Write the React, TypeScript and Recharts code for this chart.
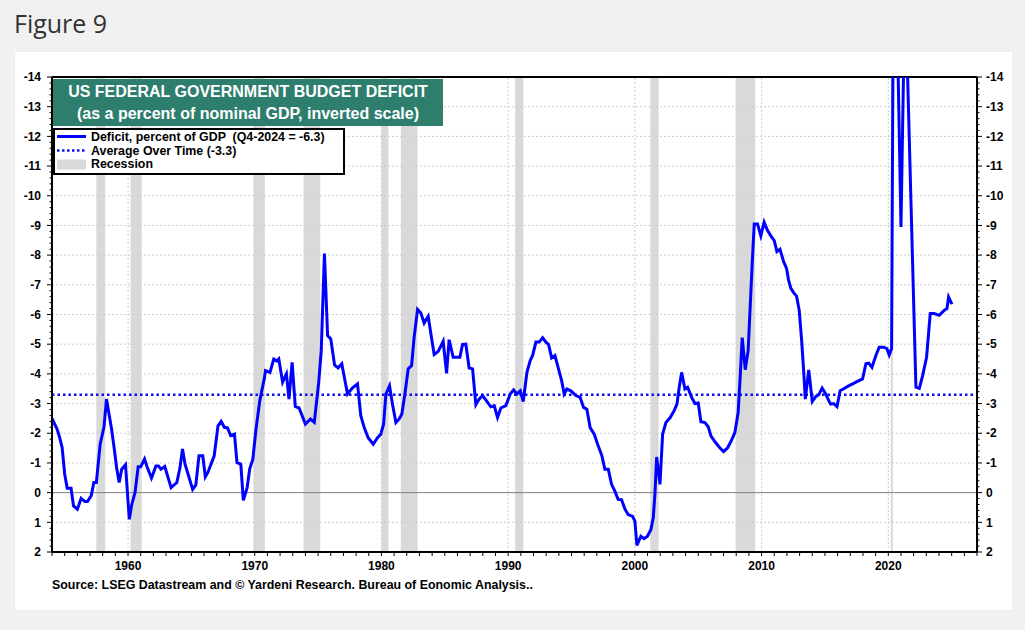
import React from 'react';
import { ComposedChart, Line, XAxis, YAxis, ReferenceArea, ReferenceLine } from 'recharts';

// ---- data ----
const years = [
  1954.0, 1954.4, 1954.6, 1954.8, 1955.0, 1955.2, 1955.5, 1955.7, 1956.0, 1956.3,
  1956.6, 1956.8, 1957.1, 1957.3, 1957.5, 1957.8, 1958.1, 1958.3, 1958.5, 1958.7,
  1958.9, 1959.1, 1959.3, 1959.5, 1959.8, 1960.1, 1960.3, 1960.55, 1960.8, 1961.0,
  1961.3, 1961.5, 1961.85, 1962.2, 1962.4, 1962.6, 1962.9, 1963.4, 1963.85, 1964.1,
  1964.3, 1964.5, 1964.7, 1965.1, 1965.35, 1965.6, 1965.9, 1966.1, 1966.3, 1966.8,
  1967.1, 1967.35, 1967.6, 1967.85, 1968.1, 1968.4, 1968.6, 1968.9, 1969.1, 1969.4,
  1969.6, 1969.85, 1970.1, 1970.4, 1970.75, 1970.85, 1971.2, 1971.5, 1971.75, 1971.9,
  1972.2, 1972.5, 1972.7, 1972.95, 1973.2, 1973.5, 1974.0, 1974.4, 1974.7, 1975.05,
  1975.25, 1975.5, 1975.75, 1976.0, 1976.3, 1976.58, 1976.87, 1977.32, 1977.72, 1978.11,
  1978.37, 1978.64, 1978.95, 1979.35, 1979.69, 1979.95, 1980.17, 1980.35, 1980.64, 1980.87,
  1981.14, 1981.4, 1981.61, 1981.85, 1982.11, 1982.38, 1982.58, 1982.85, 1983.11, 1983.37,
  1983.69, 1983.9, 1984.16, 1984.48, 1984.87, 1985.14, 1985.34, 1985.66, 1986.19, 1986.4,
  1986.66, 1986.92, 1987.19, 1987.45, 1987.71, 1987.98, 1988.32, 1988.63, 1988.9, 1989.16,
  1989.42, 1989.82, 1990.16, 1990.43, 1990.69, 1990.95, 1991.19, 1991.48, 1991.74, 1991.93,
  1992.19, 1992.45, 1992.72, 1992.98, 1993.19, 1993.43, 1993.69, 1993.95, 1994.22, 1994.42,
  1994.63, 1994.95, 1995.34, 1995.68, 1995.95, 1996.21, 1996.47, 1996.79, 1997.06, 1997.4,
  1997.63, 1997.9, 1998.16, 1998.42, 1998.68, 1998.95, 1999.21, 1999.47, 1999.82, 2000.0,
  2000.16, 2000.47, 2000.73, 2000.99, 2001.26, 2001.45, 2001.58, 2001.72, 2001.98, 2002.19,
  2002.45, 2002.79, 2003.1, 2003.32, 2003.5, 2003.69, 2003.95, 2004.16, 2004.48, 2004.74,
  2005.0, 2005.21, 2005.53, 2005.79, 2006.0, 2006.31, 2006.65, 2007.0, 2007.32, 2007.58,
  2007.89, 2008.15, 2008.31, 2008.47, 2008.71, 2008.94, 2009.1, 2009.26, 2009.42, 2009.68,
  2009.94, 2010.2, 2010.47, 2010.73, 2011.0, 2011.21, 2011.45, 2011.74, 2011.97, 2012.13,
  2012.31, 2012.57, 2012.76, 2012.97, 2013.16, 2013.32, 2013.45, 2013.72, 2014.0, 2014.29,
  2014.52, 2014.78, 2015.04, 2015.3, 2015.45, 2015.69, 2015.95, 2016.2, 2016.52, 2016.79,
  2017.18, 2017.52, 2017.97, 2018.23, 2018.45, 2018.71, 2019.02, 2019.28, 2019.63, 2019.89,
  2020.07, 2020.26, 2020.51, 2020.76, 2021.0, 2021.25, 2021.5, 2022.18, 2022.45, 2022.71,
  2023.02, 2023.31, 2023.62, 2024.02, 2024.41, 2024.63, 2024.76, 2025.02,
];

const deficit = [
  -2.5, -2.14, -1.86, -1.52, -0.63, -0.15, -0.15, 0.45, 0.56, 0.19,
  0.3, 0.3, 0.1, -0.34, -0.34, -1.63, -2.2, -3.15, -2.65, -2.14,
  -1.52, -0.84, -0.34, -0.79, -0.94, 0.9, 0.39, 0.0, -0.87, -0.87,
  -1.13, -0.87, -0.49, -0.9, -0.9, -0.79, -0.88, -0.17, -0.34, -0.84,
  -1.47, -0.96, -0.68, -0.11, -0.26, -1.24, -1.24, -0.53, -0.68, -1.24,
  -2.25, -2.4, -2.2, -2.18, -1.92, -1.97, -1.01, -0.96, 0.26, -0.17,
  -0.79, -1.13, -2.14, -3.1, -3.83, -4.11, -4.05, -4.5, -4.43, -4.5,
  -3.72, -4.0, -3.15, -4.39, -2.9, -2.85, -2.31, -2.48, -2.37, -3.72,
  -4.79, -8.05, -5.29, -5.18, -4.3, -4.2, -4.34, -3.32, -3.53, -3.66,
  -2.59, -2.19, -1.85, -1.63, -1.85, -1.97, -2.31, -3.32, -3.6, -2.98,
  -2.36, -2.48, -2.65, -3.32, -4.17, -4.28, -5.24, -6.17, -6.05, -5.71,
  -5.94, -5.35, -4.65, -4.76, -5.1, -4.02, -5.15, -4.56, -4.56, -4.99,
  -5.0, -4.2, -4.17, -2.96, -3.15, -3.27, -3.07, -2.89, -2.93, -2.53,
  -2.85, -2.93, -3.32, -3.46, -3.32, -3.43, -3.07, -4.05, -4.45, -4.62,
  -5.07, -5.07, -5.22, -5.07, -4.99, -4.54, -4.62, -4.2, -3.77, -3.32,
  -3.49, -3.43, -3.27, -3.21, -2.87, -2.81, -2.19, -1.97, -1.63, -1.24,
  -0.79, -0.79, -0.28, -0.05, 0.23, 0.24, 0.55, 0.74, 0.8, 0.96,
  1.78, 1.47, 1.55, 1.47, 1.25, 0.85, 0.06, -1.2, -0.28, -1.97,
  -2.36, -2.53, -2.76, -2.98, -3.55, -4.05, -3.49, -3.55, -3.21, -3.0,
  -3.02, -2.39, -2.36, -2.22, -1.91, -1.72, -1.54, -1.38, -1.51, -1.72,
  -2.02, -2.7, -3.89, -5.22, -4.14, -4.79, -6.26, -7.72, -9.05, -9.05,
  -8.65, -9.11, -8.83, -8.65, -8.49, -8.12, -8.2, -7.78, -7.55, -7.16,
  -6.88, -6.71, -6.62, -6.14, -5.13, -4.11, -3.15, -4.13, -3.07, -3.24,
  -3.3, -3.52, -3.34, -3.1, -2.98, -3.0, -2.9, -3.43, -3.51, -3.58,
  -3.66, -3.74, -3.83, -4.34, -4.36, -4.22, -4.62, -4.9, -4.9, -4.85,
  -4.64, -4.85, -27.4, -14.5, -8.95, -15.4, -14.4, -3.55, -3.51, -3.94,
  -4.56, -6.03, -6.03, -5.97, -6.14, -6.2, -6.59, -6.35,
];

const recessionStarts = [1957.5, 1960.2, 1969.9, 1973.85, 1980.0, 1981.53, 1990.55, 2001.22, 2007.95, 2020.2];
const recessionEnds = [1958.2, 1961.08, 1970.8, 1975.17, 1980.55, 1982.85, 1991.2, 2001.87, 2009.5, 2020.36];

const averageDeficit = -3.3;
const decadeTicks = [1960, 1970, 1980, 1990, 2000, 2010, 2020];
const yLabelTicks = [-14, -13, -12, -11, -10, -9, -8, -7, -6, -5, -4, -3, -2, -1, 0, 1, 2];

const titleLines = ['US FEDERAL GOVERNMENT BUDGET DEFICIT', '(as a percent of nominal GDP, inverted scale)'];
const legendLabels = ['Deficit, percent of GDP  (Q4-2024 = -6.3)', 'Average Over Time (-3.3)', 'Recession'];
const sourceText = 'Source: LSEG Datastream and \u00A9 Yardeni Research. Bureau of Eonomic Analysis..';
const figureTitle = 'Figure 9';

// ---- derived structures ----
const data = years.map((y, i) => ({ year: y, value: deficit[i] }));
const yearTicks: number[] = [];
for (let y = 1954; y <= 2027; y++) yearTicks.push(y);
const yMinorTicks: number[] = [];
for (let i = 0; i <= 80; i++) yMinorTicks.push(Math.round((-14 + i * 0.2) * 10) / 10);

const FONT = '"Liberation Sans", Arial, Helvetica, sans-serif';
const BLUE = '#0000ff';

const isMajor = (v: number) => Math.abs(v - Math.round(v)) < 1e-6 && yLabelTicks.includes(Math.round(v));

const LeftTick = (props: any) => {
  const { x, y, payload } = props;
  const v = payload.value as number;
  const major = isMajor(v);
  return (
    <g>
      <line x1={x} x2={x - (major ? 5 : 2.5)} y1={y} y2={y} stroke="#000" strokeWidth={1} />
      {major && (
        <text x={x - 11} y={y} dy={4.2} textAnchor="end" fontSize={12} fontWeight="bold" fill="#000" fontFamily={FONT}>
          {Math.round(v)}
        </text>
      )}
    </g>
  );
};

const RightTick = (props: any) => {
  const { x, y, payload } = props;
  const v = payload.value as number;
  const major = isMajor(v);
  return (
    <g>
      <line x1={x} x2={x + (major ? 5 : 2.5)} y1={y} y2={y} stroke="#000" strokeWidth={1} />
      {major && (
        <text x={x + 9} y={y} dy={4.2} textAnchor="start" fontSize={12} fontWeight="bold" fill="#000" fontFamily={FONT}>
          {Math.round(v)}
        </text>
      )}
    </g>
  );
};

const BottomTick = (props: any) => {
  const { x, y, payload } = props;
  const v = payload.value as number;
  const isDecade = decadeTicks.includes(v);
  return (
    <g>
      <line x1={x} x2={x} y1={y} y2={y + 4} stroke="#000" strokeWidth={1} />
      {isDecade && (
        <text x={x} y={y + 18} textAnchor="middle" fontSize={12} fontWeight="bold" fill="#000" fontFamily={FONT}>
          {v}
        </text>
      )}
    </g>
  );
};

export default function App() {
  return (
    <div style={{ position: 'fixed', left: 0, top: 0, width: 1025, height: 630, background: '#f1f1f1', overflow: 'hidden' }}>
      <div
        style={{
          position: 'absolute', left: 14, top: 6, fontFamily: '"Open Sans", sans-serif', fontSize: 25,
          lineHeight: '34px', color: '#333',
        }}
      >
        {figureTitle}
      </div>
      <div style={{ position: 'absolute', left: 15, top: 52, width: 997, height: 558, background: '#fff', boxShadow: '0 0 1px #ddd' }} />
      <div style={{ position: 'absolute', left: 0, top: 0 }}>
        <ComposedChart width={1025} height={630} data={data} margin={{ top: 77, right: 8, bottom: 48, left: 12 }}>
          <XAxis
            dataKey="year"
            type="number"
            domain={[1954, 2027]}
            allowDataOverflow
            ticks={yearTicks}
            interval={0}
            tickSize={0}
            tickMargin={0}
            tickLine={false}
            tick={<BottomTick />}
            height={30}
            axisLine={{ stroke: '#000', strokeWidth: 2 }}
          />
          <YAxis
            yAxisId="left"
            type="number"
            domain={[-14, 2]}
            reversed
            allowDataOverflow
            ticks={yMinorTicks}
            interval={0}
            tickSize={0}
            tickMargin={0}
            tickLine={false}
            tick={<LeftTick />}
            width={40}
            axisLine={{ stroke: '#000', strokeWidth: 2 }}
          />
          <YAxis
            yAxisId="right"
            orientation="right"
            type="number"
            domain={[-14, 2]}
            reversed
            allowDataOverflow
            ticks={yMinorTicks}
            interval={0}
            tickSize={0}
            tickMargin={0}
            tickLine={false}
            tick={<RightTick />}
            width={40}
            axisLine={{ stroke: '#000', strokeWidth: 2 }}
          />
          {recessionStarts.map((s, i) => (
            <ReferenceArea key={'r' + i} yAxisId="left" x1={s} x2={recessionEnds[i]} fill="#d9d9d9" fillOpacity={1} stroke="none" />
          ))}
          {yLabelTicks
            .filter((v) => v !== 0 && v !== -14 && v !== 2)
            .map((v) => (
              <ReferenceLine key={'h' + v} yAxisId="left" y={v} stroke="#cfcfcf" strokeDasharray="2 2" strokeWidth={1} />
            ))}
          {decadeTicks.map((v) => (
            <ReferenceLine key={'v' + v} yAxisId="left" x={v} stroke="#cfcfcf" strokeDasharray="2 2" strokeWidth={1} />
          ))}
          <ReferenceLine yAxisId="left" y={0} stroke="#808080" strokeWidth={1} />
          <ReferenceLine yAxisId="left" y={-14} stroke="#000" strokeWidth={2} />
          <ReferenceLine yAxisId="left" y={averageDeficit} stroke="#1010ee" strokeWidth={2.5} strokeDasharray="2.5 3" />
          <Line
            yAxisId="left"
            dataKey="value"
            type="linear"
            stroke={BLUE}
            strokeWidth={3}
            dot={false}
            activeDot={false}
            isAnimationActive={false}
          />
        </ComposedChart>
      </div>
      <div
        style={{
          position: 'absolute', left: 53, top: 79, width: 390, height: 47, boxSizing: 'border-box', paddingTop: 2,
          background: '#2e7e6e', color: '#fff', fontFamily: FONT, fontWeight: 'bold', fontSize: 16,
          lineHeight: '21.5px', textAlign: 'center',
        }}
      >
        <div>{titleLines[0]}</div>
        <div>{titleLines[1]}</div>
      </div>
      <div
        style={{
          position: 'absolute', left: 53, top: 128, width: 292, height: 47, boxSizing: 'border-box',
          border: '2px solid #000', background: '#fff', fontFamily: FONT, fontWeight: 'bold', fontSize: 12.4,
          color: '#000', paddingTop: 0,
        }}
      >
        {legendLabels.map((label, i) => (
          <div key={label} style={{ display: 'flex', alignItems: 'center', height: 13.7 }}>
            <svg width={30} height={13} style={{ marginLeft: 2, marginRight: 4, flex: 'none' }}>
              {i === 0 && <line x1={0} x2={29} y1={6.5} y2={6.5} stroke={BLUE} strokeWidth={3} />}
              {i === 1 && <line x1={0} x2={29} y1={6.5} y2={6.5} stroke="#1010ee" strokeWidth={2.5} strokeDasharray="2.5 2.5" />}
              {i === 2 && <rect x={0} y={1.5} width={29} height={10} fill="#d9d9d9" />}
            </svg>
            <span style={{ whiteSpace: 'pre' }}>{label}</span>
          </div>
        ))}
      </div>
      <div
        style={{
          position: 'absolute', left: 52, top: 578, fontFamily: FONT, fontWeight: 'bold', fontSize: 12.4,
          lineHeight: '14px', color: '#000', whiteSpace: 'nowrap',
        }}
      >
        {sourceText}
      </div>
    </div>
  );
}
